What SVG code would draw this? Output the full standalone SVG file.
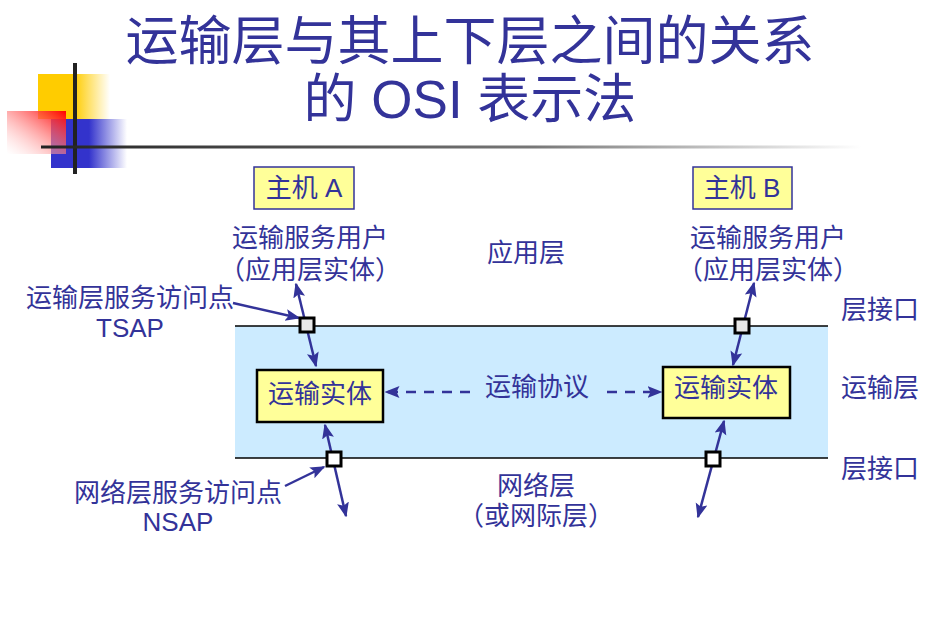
<svg xmlns="http://www.w3.org/2000/svg" width="937" height="625" viewBox="0 0 937 625">
<defs>
<linearGradient id="gy" x1="0" y1="0" x2="1" y2="0"><stop offset="0" stop-color="#FFCC00"/><stop offset="0.5" stop-color="#FFCC00"/><stop offset="1" stop-color="#FFCC00" stop-opacity="0"/></linearGradient>
<linearGradient id="gb" x1="0" y1="0" x2="1" y2="0"><stop offset="0" stop-color="#3333CC"/><stop offset="0.5" stop-color="#3333CC"/><stop offset="1" stop-color="#3333CC" stop-opacity="0"/></linearGradient>
<linearGradient id="gr" x1="1" y1="0" x2="0" y2="1"><stop offset="0" stop-color="#FF0000"/><stop offset="1" stop-color="#FFFFFF" stop-opacity="0.3"/></linearGradient>
<linearGradient id="gl" x1="0" y1="0" x2="1" y2="0"><stop offset="0" stop-color="#222222"/><stop offset="0.6" stop-color="#777777"/><stop offset="1" stop-color="#FFFFFF"/></linearGradient>
<marker id="ah" viewBox="0 0 10 10" refX="9" refY="5" markerWidth="6" markerHeight="6" orient="auto-start-reverse" markerUnits="strokeWidth"><path d="M0,1 L10,5 L0,9 L2,5 z" fill="#333399"/></marker>
</defs>
<style>
text{font-family:"Liberation Sans","Noto Sans CJK SC",sans-serif;fill:#333399;text-anchor:middle}
.t{font-size:53px}
.l{font-size:26px}
.e{font-size:26px}
.host{fill:#FFFF99;stroke:#333399;stroke-width:1.5}
.ent{fill:#FFFF99;stroke:#000;stroke-width:2.5}
.ln{stroke:#333399;stroke-width:2.5;fill:none}
.sap{stroke:#000;stroke-width:3}
</style>
<g id="decor">
<rect x="38" y="74" width="72" height="45" fill="url(#gy)"/>
<rect x="51" y="119" width="76" height="49" fill="url(#gb)"/>
<rect x="7" y="111" width="59" height="43" fill="url(#gr)"/>
<rect x="73" y="63" width="4" height="111" fill="#222"/>
<rect x="41" y="145.5" width="820" height="3" fill="url(#gl)"/>
</g>
<g id="title">
<text class="t" x="470" y="60">运输层与其上下层之间的关系</text>
<text class="t" x="470" y="118">的 OSI 表示法</text>
</g>
<g id="band">
<rect x="235" y="326" width="593" height="132" fill="#CCEBFF"/>
<line x1="235" y1="326" x2="828" y2="326" stroke="#000" stroke-width="1.5"/>
<line x1="235" y1="458" x2="828" y2="458" stroke="#000" stroke-width="1.5"/>
</g>
<g id="connectors">
<line class="ln" x1="296" y1="284" x2="316" y2="366" marker-start="url(#ah)" marker-end="url(#ah)"/>
<line class="ln" x1="325" y1="425" x2="346" y2="516" marker-start="url(#ah)" marker-end="url(#ah)"/>
<line class="ln" x1="754" y1="283" x2="733" y2="365" marker-start="url(#ah)" marker-end="url(#ah)"/>
<line class="ln" x1="724" y1="421" x2="698" y2="517" marker-start="url(#ah)" marker-end="url(#ah)"/>
<line class="ln" x1="233" y1="303" x2="299" y2="318" marker-end="url(#ah)"/>
<line class="ln" x1="285" y1="486" x2="324" y2="467" marker-end="url(#ah)"/>
<line class="ln" x1="470" y1="392" x2="386" y2="392" stroke-dasharray="10 8" marker-end="url(#ah)"/>
<line class="ln" x1="607" y1="392" x2="661" y2="392" stroke-dasharray="10 8" marker-end="url(#ah)"/>
</g>
<g id="sapA-T"><rect class="sap" x="300" y="318" width="14" height="14" fill="#E8E8E8"/></g>
<g id="sapB-T"><rect class="sap" x="735" y="319" width="14" height="14" fill="#E8E8E8"/></g>
<g id="sapA-N"><rect class="sap" x="327" y="452" width="14" height="14" fill="#FFF"/></g>
<g id="sapB-N"><rect class="sap" x="706" y="452" width="14" height="14" fill="#FFF"/></g>
<g id="hostA"><rect class="host" x="254" y="167" width="100" height="42"/><text class="l" x="304" y="197">主机 A</text></g>
<g id="hostB"><rect class="host" x="693" y="167" width="99" height="42"/><text class="l" x="742" y="197">主机 B</text></g>
<g id="entityA"><rect class="ent" x="257" y="370" width="126" height="52"/><text class="e" x="320" y="403">运输实体</text></g>
<g id="entityB"><rect class="ent" x="663" y="367" width="127" height="51"/><text class="e" x="726" y="397">运输实体</text></g>
<g id="labels">
<text class="l" x="310" y="247">运输服务用户</text>
<text class="l" x="310" y="279">（应用层实体）</text>
<text class="l" x="768" y="247">运输服务用户</text>
<text class="l" x="768" y="279">（应用层实体）</text>
<text class="l" x="526" y="262">应用层</text>
<text class="l" x="130" y="307">运输层服务访问点</text>
<text class="l" x="130" y="337">TSAP</text>
<text class="l" x="880" y="319">层接口</text>
<text class="l" x="880" y="397">运输层</text>
<text class="l" x="880" y="478">层接口</text>
<text class="l" x="537" y="396">运输协议</text>
<text class="l" x="178" y="502">网络层服务访问点</text>
<text class="l" x="178" y="531">NSAP</text>
<text class="l" x="536" y="495">网络层</text>
<text class="l" x="536" y="525">（或网际层）</text>
</g>
</svg>
